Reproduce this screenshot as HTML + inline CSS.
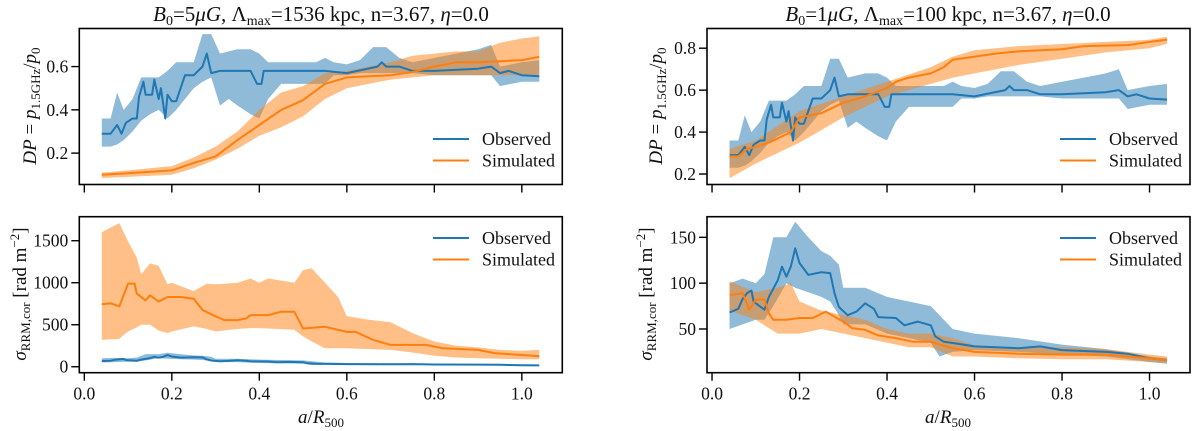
<!DOCTYPE html>
<html><head><meta charset="utf-8"><style>
html,body{margin:0;padding:0;background:#fff;}
svg{display:block;}
svg text{font-family:"Liberation Serif","DejaVu Serif",serif !important;}
</style></head><body>
<svg id="fig" width="1200" height="431" viewBox="0 0 1200 431"></svg>
<script>
// ---- data ----
const obsDPx = [.04,.06,.075,.085,.095,.11,.12,.125,.135,.14,.155,.16,.17,.175,.185,.19,.20,.21,.23,.25,.26,.27,.28,.29,.31,.35,.38,.395,.405,.41,.45,.55,.6,.67,.68,.69,.72,.75,.8,.9,.93,.95,.97,1.0,1.04];
const obsDPy = [.29,.29,.33,.29,.34,.36,.36,.46,.53,.47,.47,.54,.45,.50,.36,.47,.44,.44,.56,.56,.58,.60,.66,.57,.58,.58,.58,.52,.52,.58,.58,.58,.57,.60,.62,.60,.60,.58,.58,.59,.60,.57,.58,.56,.555];
const obsDPbx = [.04,.06,.075,.09,.11,.13,.15,.17,.19,.21,.23,.25,.27,.29,.31,.33,.35,.38,.40,.42,.45,.5,.53,.55,.57,.6,.63,.66,.69,.72,.75,.8,.85,.9,.93,.95,1.0,1.04];
const obsDPhi = [.36,.36,.48,.40,.45,.55,.55,.55,.58,.62,.62,.62,.75,.75,.66,.67,.68,.68,.66,.62,.62,.62,.62,.64,.62,.61,.63,.69,.69,.64,.62,.64,.66,.68,.70,.60,.62,.63];
const obsDPlo = [.23,.23,.24,.26,.30,.35,.38,.40,.36,.40,.45,.50,.53,.55,.42,.45,.42,.38,.36,.45,.52,.52,.52,.52,.56,.56,.57,.57,.57,.57,.57,.56,.56,.56,.56,.51,.53,.53];

const simDP1x = [.04,.1,.2,.25,.3,.35,.4,.45,.5,.55,.6,.65,.7,.75,.8,.85,.9,.95,1.0,1.04];
const simDP1y = [.10,.107,.12,.155,.185,.26,.33,.40,.445,.52,.55,.555,.56,.575,.60,.62,.62,.625,.63,.645];
const simDP1hi = [.11,.12,.14,.18,.23,.30,.40,.48,.51,.57,.58,.60,.62,.65,.66,.67,.67,.71,.73,.74];
const simDP1lo = [.085,.09,.10,.13,.17,.22,.28,.32,.37,.45,.50,.52,.54,.55,.56,.56,.56,.56,.56,.56];

const simRM1x = [.04,.06,.08,.1,.115,.12,.14,.15,.17,.19,.22,.25,.27,.3,.32,.35,.37,.38,.42,.45,.48,.5,.55,.6,.62,.66,.7,.78,.82,.9,.94,1.0,1.04];
const simRM1y = [745,755,720,990,990,870,790,850,775,830,830,810,675,600,555,555,575,615,615,655,655,455,475,415,415,320,260,260,220,200,160,140,125];
const simRM1bx = [.04,.08,.09,.1,.12,.13,.15,.17,.19,.2,.25,.28,.3,.35,.38,.4,.42,.48,.5,.52,.55,.58,.6,.65,.7,.75,.8,.85,.9,.95,1.0,1.04];
const simRM1hi = [1600,1710,1600,1490,1300,1100,1230,1200,980,1000,900,990,980,1000,1050,1000,1050,1000,1150,1170,1000,830,600,560,530,400,300,250,230,200,190,200];
const simRM1lo = [320,330,380,420,470,500,500,430,400,420,480,450,420,450,460,460,455,440,360,300,220,220,220,210,200,170,130,110,100,95,90,90];

const obsRMx = [.04,.06,.07,.08,.09,.095,.1,.12,.13,.15,.16,.17,.18,.19,.2,.22,.25,.27,.28,.29,.31,.33,.35,.37,.38,.42,.44,.47,.5,.51,.53,.56,.6,.7,.75,.8,.9,.95,1.0,1.04];
const obsRMy = [68,72,83,89,92,80,78,71,85,103,118,107,118,138,122,109,112,111,89,74,65,69,78,72,63,62,54,58,54,42,36,34,31,29,31,27,25,23,18,16];
const obsRMbx = [.04,.07,.1,.12,.14,.17,.19,.22,.25,.27,.29,.3,.35,.4,.45,.5,.52,.55,.6,.7,.8,.9,1.0,1.04];
const obsRMhi = [100,105,100,110,150,150,167,150,135,130,120,95,95,85,80,75,65,50,45,40,33,28,20,18];
const obsRMlo = [50,55,60,60,75,100,95,90,85,80,65,55,55,45,40,35,20,25,27,25,22,20,14,12];

const simDP2x = [.04,.06,.08,.1,.13,.16,.18,.19,.2,.25,.3,.35,.4,.42,.45,.5,.53,.55,.6,.65,.7,.8,.85,.95,1.0,1.04];
const simDP2y = [.284,.284,.32,.33,.35,.38,.40,.435,.47,.49,.54,.57,.61,.64,.66,.68,.71,.745,.76,.775,.785,.795,.81,.815,.83,.84];
const simDP2bx = [.04,.1,.2,.3,.4,.5,.55,.6,.7,.8,.9,1.0,1.04];
const simDP2hi = [.32,.36,.50,.57,.64,.71,.76,.79,.81,.82,.83,.84,.855];
const simDP2lo = [.18,.25,.35,.47,.57,.63,.66,.68,.72,.75,.78,.80,.82];

const simRM2x = [.04,.07,.085,.1,.12,.13,.14,.17,.2,.23,.26,.3,.32,.35,.38,.42,.46,.5,.55,.6,.7,.8,.9,1.0,1.04];
const simRM2y = [87,89,71,82,82,67,60,60,62,62,69,58,51,49,43,40,36,36,29,25,23,22,22,18,16];
const simRM2bx = [.04,.1,.15,.18,.2,.25,.3,.35,.4,.45,.5,.55,.6,.7,.8,.9,1.0,1.04];
const simRM2hi = [102,90,95,100,80,70,65,60,50,45,45,40,32,30,30,28,22,20];
const simRM2lo = [70,60,45,45,45,50,45,40,35,30,30,20,20,18,17,17,14,13];

const xTicks = [0,0.2,0.4,0.6,0.8,1.0];
const xTickLabels = ["0.0","0.2","0.4","0.6","0.8","1.0"];
const dpTicks1 = [0.2,0.4,0.6];
const rmTicks1 = [0,500,1000,1500];
const dpTicks2 = [0.2,0.4,0.6,0.8];
const rmTicks2 = [50,100,150];

// ---- drawing ----
const NS = "http://www.w3.org/2000/svg";
const svg = document.getElementById('fig');
const BLUE = "#1f77b4", ORANGE = "#ff7f0e";
function el(tag, attrs, parent){ const e=document.createElementNS(NS,tag); for(const k in attrs) e.setAttribute(k,attrs[k]); (parent||svg).appendChild(e); return e; }

function panel(name, left, top, ylo, yhi, yTicks, yFmt, showX){
  const W=483, H=156, xlo=-0.0115, xhi=1.0925;
  const g = el('g',{});
  
  
  const X = v => left + (v-xlo)/(xhi-xlo)*W;
  const Y = v => top + H - (v-ylo)/(yhi-ylo)*H;
  const cid = name+'-clip';
  const cp = el('clipPath',{id:cid},g); el('rect',{x:left,y:top,width:W,height:H},cp);
  const plot = el('g',{'clip-path':'url(#'+cid+')'},g);
  return {g, plot, X, Y, left, top, W, H, yTicks, yFmt, showX};
}
function band(p, xs, lo, hi, color, name){
  let d = 'M' + xs.map((x,i)=>p.X(x).toFixed(1)+','+p.Y(hi[i]).toFixed(1)).join('L');
  for(let i=xs.length-1;i>=0;i--) d += 'L'+p.X(xs[i]).toFixed(1)+','+p.Y(lo[i]).toFixed(1);
  const e = el('path',{d:d+'Z',fill:color,'fill-opacity':0.5,stroke:'none'},p.plot);
  
  
}
function line(p, xs, ys, color, name){
  const d = 'M' + xs.map((x,i)=>p.X(x).toFixed(1)+','+p.Y(ys[i]).toFixed(1)).join('L');
  const e = el('path',{d,fill:'none',stroke:color,'stroke-width':2,'stroke-linejoin':'round'},p.plot);
  
  
}
function axes(p){
  const fr = el('rect',{x:p.left,y:p.top,width:p.W,height:p.H,fill:'none',stroke:'#000','stroke-width':1.6},p.g);
  
  
  xTicks.forEach((t,i)=>{
    const x=p.X(t);
    el('line',{x1:x,x2:x,y1:p.top+p.H,y2:p.top+p.H+8,stroke:'#000','stroke-width':1.4},p.g);
    if(p.showX){
      const tx = el('text',{x:x,y:p.top+p.H+27,'font-size':17.5,'text-anchor':'middle',fill:'#111'},p.g);
      tx.textContent = xTickLabels[i];
      
      
    }
  });
  p.yTicks.forEach(t=>{
    const y=p.Y(t);
    el('line',{x1:p.left-8,x2:p.left,y1:y,y2:y,stroke:'#000','stroke-width':1.4},p.g);
    const tx = el('text',{x:p.left-11,y:y+6,'font-size':17.5,'text-anchor':'end',fill:'#111'},p.g);
    tx.textContent = p.yFmt(t);
    
    
  });
}
function legend(p, lx, ly){
  const lg = el('g',{},p.g);
  
  
  [["Observed",BLUE],["Simulated",ORANGE]].forEach((it,i)=>{
    const y = ly + i*21.5;
    el('line',{x1:lx,x2:lx+36,y1:y,y2:y,stroke:it[1],'stroke-width':2},lg);
    const t = el('text',{x:lx+49,y:y+6,'font-size':18,fill:'#111'},lg);
    t.textContent = it[0];
    
    
  });
}
const f1 = t=>t.toFixed(1), f0 = t=>String(t);

const pA = panel('dp-panel-left', 79.3, 28.5, 0.055, 0.776, dpTicks1, f1, false);
band(pA, obsDPbx, obsDPlo, obsDPhi, BLUE, 'observed-band');
band(pA, simDP1x, simDP1lo, simDP1hi, ORANGE, 'simulated-band');
line(pA, obsDPx, obsDPy, BLUE, 'observed-line');
line(pA, simDP1x, simDP1y, ORANGE, 'simulated-line');
axes(pA); legend(pA, 433, 139);

const pB = panel('rm-panel-left', 79.3, 216.7, -71, 1786, rmTicks1, f0, true);
band(pB, obsRMbx, obsRMlo, obsRMhi, BLUE, 'observed-band');
band(pB, simRM1bx, simRM1lo, simRM1hi, ORANGE, 'simulated-band');
line(pB, obsRMx, obsRMy, BLUE, 'observed-line');
line(pB, simRM1x, simRM1y, ORANGE, 'simulated-line');
axes(pB); legend(pB, 433, 238);

const pC = panel('dp-panel-right', 707, 28.5, 0.15, 0.894, dpTicks2, f1, false);
band(pC, obsDPbx, obsDPlo, obsDPhi, BLUE, 'observed-band');
band(pC, simDP2bx, simDP2lo, simDP2hi, ORANGE, 'simulated-band');
line(pC, obsDPx, obsDPy, BLUE, 'observed-line');
line(pC, simDP2x, simDP2y, ORANGE, 'simulated-line');
axes(pC); legend(pC, 1060, 139);

const pD = panel('rm-panel-right', 707, 216.7, 2.3, 172.5, rmTicks2, f0, true);
band(pD, obsRMbx, obsRMlo, obsRMhi, BLUE, 'observed-band');
band(pD, simRM2bx, simRM2lo, simRM2hi, ORANGE, 'simulated-band');
line(pD, obsRMx, obsRMy, BLUE, 'observed-line');
line(pD, simRM2x, simRM2y, ORANGE, 'simulated-line');
axes(pD); legend(pD, 1060, 238);
</script>
<svg style="position:absolute;left:0;top:0" width="1200" height="431">
  <text x="321" y="21" font-size="21" text-anchor="middle" fill="#111"><tspan font-style="italic">B</tspan><tspan font-size="14" dy="4">0</tspan><tspan dy="-4">=5</tspan><tspan font-style="italic">μG</tspan>, Λ<tspan font-size="14" dy="4">max</tspan><tspan dy="-4">=1536 kpc, n=3.67, </tspan><tspan font-style="italic">η</tspan>=0.0</text>
  <text x="948" y="21" font-size="21" text-anchor="middle" fill="#111"><tspan font-style="italic">B</tspan><tspan font-size="14" dy="4">0</tspan><tspan dy="-4">=1</tspan><tspan font-style="italic">μG</tspan>, Λ<tspan font-size="14" dy="4">max</tspan><tspan dy="-4">=100 kpc, n=3.67, </tspan><tspan font-style="italic">η</tspan>=0.0</text>
  <text transform="translate(36,106) rotate(-90)" font-size="19" text-anchor="middle" fill="#111"><tspan font-style="italic">DP</tspan> = <tspan font-style="italic">p</tspan><tspan font-size="13" dy="4">1.5GHz</tspan><tspan dy="-4">/</tspan><tspan font-style="italic">p</tspan><tspan font-size="13" dy="4">0</tspan></text>
  <text transform="translate(26,294) rotate(-90)" font-size="19" text-anchor="middle" fill="#111"><tspan font-style="italic">σ</tspan><tspan font-size="13" dy="4">RRM,cor</tspan><tspan dy="-4"> [rad m</tspan><tspan font-size="13" dy="-7">−2</tspan><tspan dy="7">]</tspan></text>
  <text transform="translate(662,106) rotate(-90)" font-size="19" text-anchor="middle" fill="#111"><tspan font-style="italic">DP</tspan> = <tspan font-style="italic">p</tspan><tspan font-size="13" dy="4">1.5GHz</tspan><tspan dy="-4">/</tspan><tspan font-style="italic">p</tspan><tspan font-size="13" dy="4">0</tspan></text>
  <text transform="translate(652,294) rotate(-90)" font-size="19" text-anchor="middle" fill="#111"><tspan font-style="italic">σ</tspan><tspan font-size="13" dy="4">RRM,cor</tspan><tspan dy="-4"> [rad m</tspan><tspan font-size="13" dy="-7">−2</tspan><tspan dy="7">]</tspan></text>
  <text x="321" y="423" font-size="19" text-anchor="middle" fill="#111"><tspan font-style="italic">a</tspan>/<tspan font-style="italic">R</tspan><tspan font-size="13" dy="4">500</tspan></text>
  <text x="948" y="423" font-size="19" text-anchor="middle" fill="#111"><tspan font-style="italic">a</tspan>/<tspan font-style="italic">R</tspan><tspan font-size="13" dy="4">500</tspan></text>
</svg>
</body></html>
